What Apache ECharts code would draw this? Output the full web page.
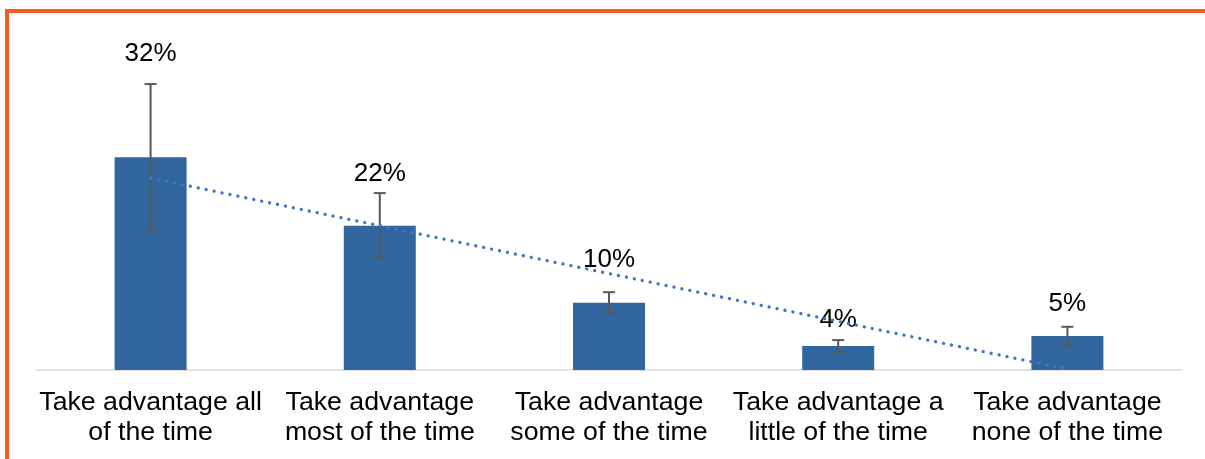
<!DOCTYPE html>
<html>
<head>
<meta charset="utf-8">
<script src="https://cdn.jsdelivr.net/npm/echarts@6/dist/echarts.min.js"></script>
<style>
  html, body { margin: 0; padding: 0; background: #fff; }
  #chart { width: 1205px; height: 459px; }
</style>
</head>
<body>
<div id="chart"></div>
<script>
const categories = [
    'Take advantage all\nof the time',
    'Take advantage\nmost of the time',
    'Take advantage\nsome of the time',
    'Take advantage a\nlittle of the time',
    'Take advantage\nnone of the time'
];
const shares = [32.0, 21.7, 10.1, 3.6, 5.1];
const shareLabels = ['32%', '22%', '10%', '4%', '5%'];
const errLow = [21.1, 16.8, 8.6, 2.7, 3.7];
const errHigh = [43.0, 26.6, 11.7, 4.5, 6.5];

// gap in px between the error cap and the centre of each value label
const labelGap = [30, 19, 32, 20, 23];

document.addEventListener('DOMContentLoaded', () => {
    const chart = echarts.init(document.getElementById('chart'));

    // linear trendline (least squares), like Excel's
    const n = shares.length;
    const xs = shares.map((v, i) => i + 1);
    const mx = xs.reduce((a, b) => a + b, 0) / n;
    const my = shares.reduce((a, b) => a + b, 0) / n;
    let num = 0, den = 0;
    xs.forEach((x, i) => {
        num += (x - mx) * (shares[i] - my);
        den += (x - mx) * (x - mx);
    });
    const slope = num / den;
    const trend = xs.map(x => my + slope * (x - mx));

    const errData = shares.map((v, i) => [i, errLow[i], errHigh[i]]);

    chart.setOption({
        animation: false,
        textStyle: { fontFamily: 'Liberation Sans, Arial, sans-serif' },
        graphic: [{
            type: 'rect',
            shape: { x: 7, y: 11, width: 1400, height: 600 },
            style: { fill: 'none', stroke: '#f15a24', lineWidth: 4 },
            silent: true
        }],
        grid: { left: 36, right: 23, top: 37.5, bottom: 89 },
        xAxis: {
            type: 'category',
            data: categories,
            axisTick: { show: false },
            axisLine: { lineStyle: { color: '#d9d9d9', width: 1.5 } },
            axisLabel: {
                interval: 0,
                color: '#000',
                fontSize: 26.7,
                lineHeight: 30,
                margin: 18,
                fontFamily: 'Liberation Sans, Arial, sans-serif'
            }
        },
        yAxis: {
            type: 'value',
            min: 0,
            max: 50,
            show: false,
            splitLine: { show: false }
        },
        series: [
            {
                type: 'bar',
                data: shares,
                barWidth: 72,
                itemStyle: { color: '#31669f' },
                z: 2
            },
            {
                type: 'line',
                data: trend,
                symbol: 'none',
                lineStyle: { color: '#4472c4', width: 3.3, type: [0.1, 8], cap: 'round' },
                z: 4
            },
            {
                type: 'custom',
                data: errData,
                encode: { x: 0, y: [1, 2] },
                z: 3,
                renderItem: (params, api) => {
                    const i = api.value(0);
                    const lo = api.coord([i, api.value(1)]);
                    const hi = api.coord([i, api.value(2)]);
                    const cap = 6;
                    const ls = { stroke: '#595959', lineWidth: 2 };
                    return {
                        type: 'group',
                        children: [
                            { type: 'line', shape: { x1: lo[0], y1: lo[1], x2: hi[0], y2: hi[1] }, style: ls },
                            { type: 'line', shape: { x1: hi[0] - cap, y1: hi[1], x2: hi[0] + cap, y2: hi[1] }, style: ls },
                            { type: 'line', shape: { x1: lo[0] - cap, y1: lo[1], x2: lo[0] + cap, y2: lo[1] }, style: ls },
                            {
                                type: 'text',
                                style: {
                                    text: shareLabels[params.dataIndex],
                                    x: hi[0],
                                    y: hi[1] - labelGap[params.dataIndex],
                                    fill: '#000',
                                    font: '26px "Liberation Sans", Arial, sans-serif',
                                    align: 'center',
                                    verticalAlign: 'middle'
                                }
                            }
                        ]
                    };
                }
            }
        ]
    });

    window.addEventListener('resize', () => chart.resize());
});
</script>
</body>
</html>
